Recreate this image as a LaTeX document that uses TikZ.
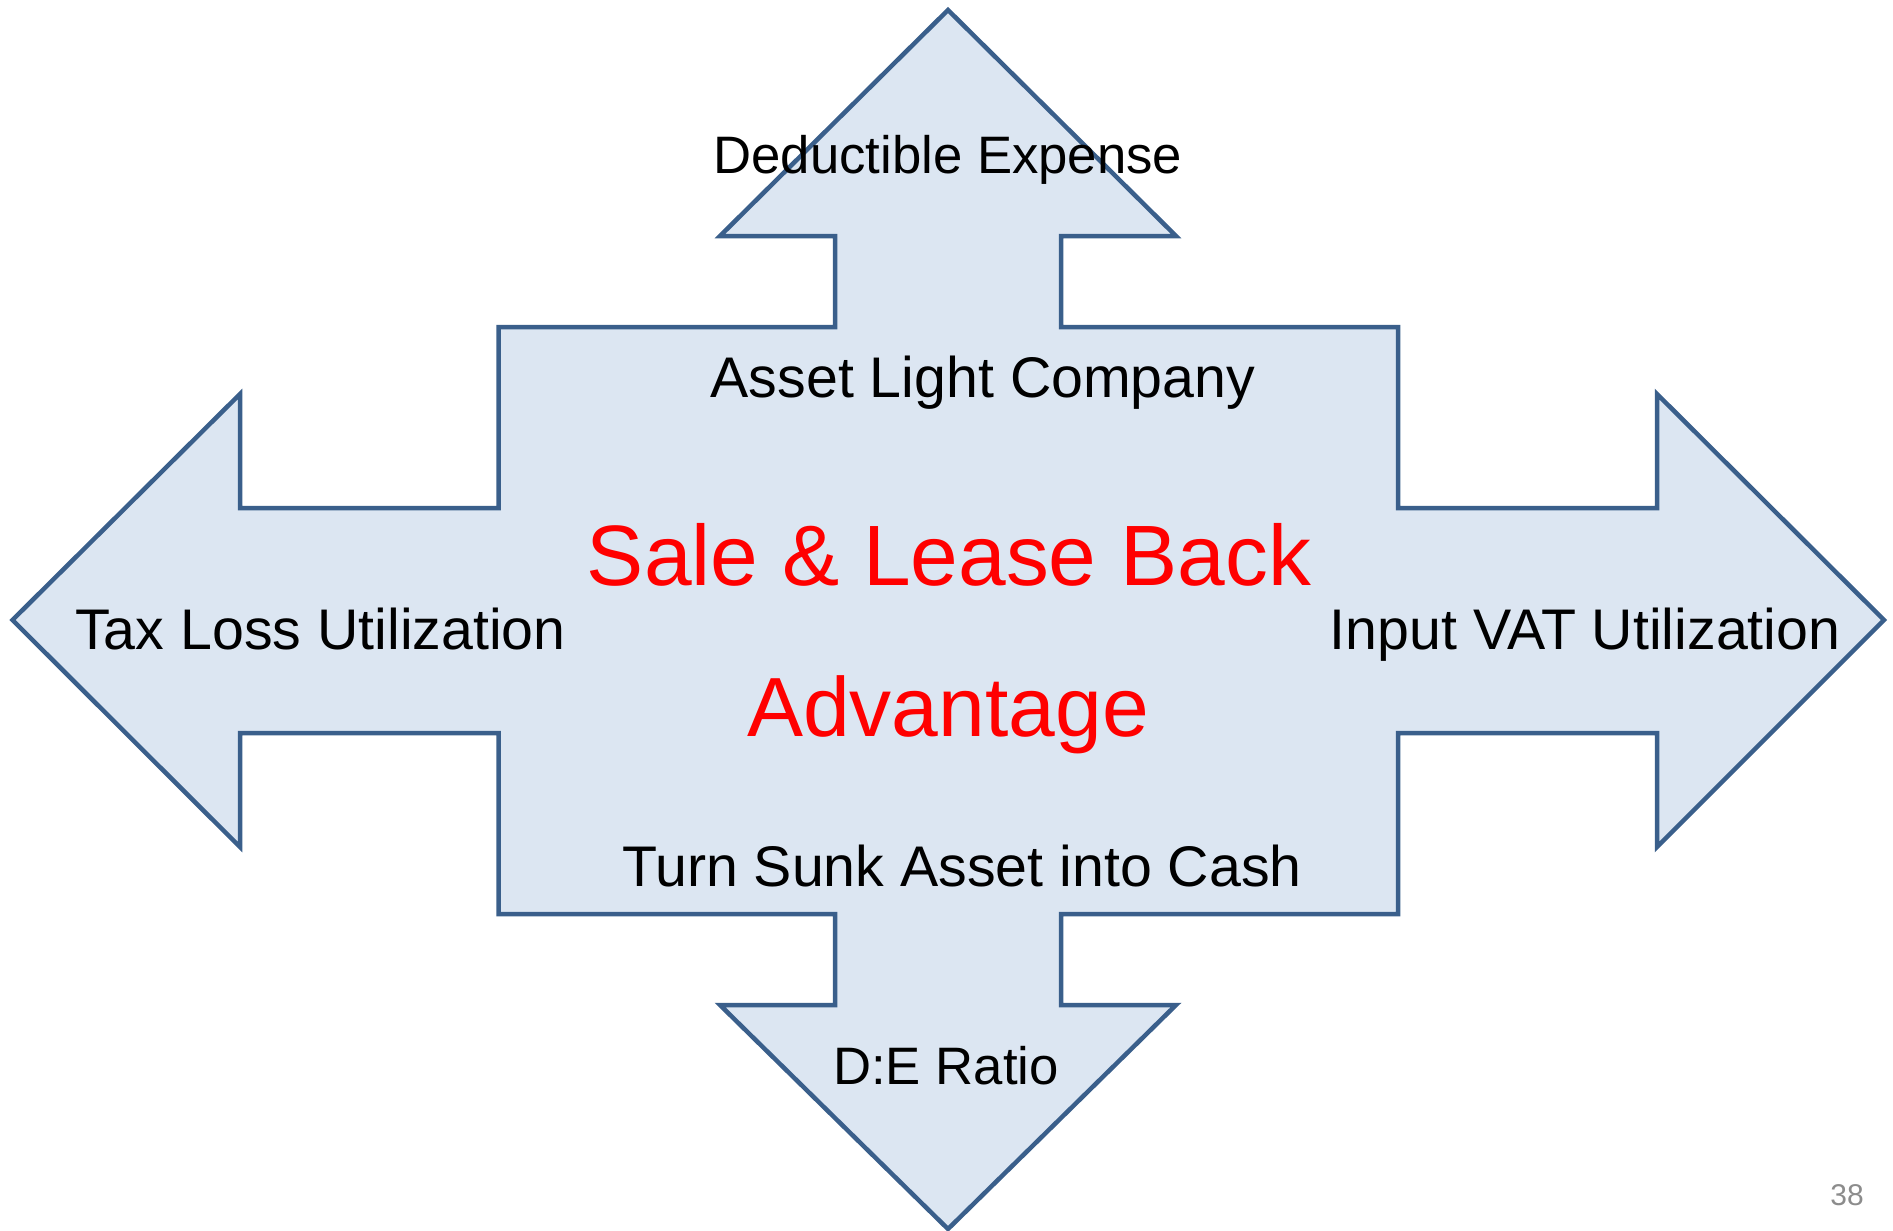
\documentclass[tikz,border=0pt]{standalone}
\usepackage{fontspec}
\setmainfont{Liberation Sans}
\definecolor{edgeblue}{HTML}{3A5F8B}
\definecolor{paleblue}{HTML}{DCE6F2}
\definecolor{pagenum}{HTML}{8C8C8C}
\tikzset{
  crossarrow/.style={draw=edgeblue, fill=paleblue, line width=4.5pt, line join=miter},
  lbl/.style={inner sep=0pt, anchor=base, text=black, font=\fontsize{57.3}{62}\selectfont},
  lblsmall/.style={lbl, font=\fontsize{52.7}{58}\selectfont},
  headline/.style={inner sep=0pt, anchor=base, text=red, font=\fontsize{85.7}{95}\selectfont},
  headline2/.style={headline, font=\fontsize{84}{95}\selectfont},
}
\begin{document}
\begin{tikzpicture}[x=1pt, y=-1pt]
\useasboundingbox (0,0) rectangle (1893,1231);
% four-way arrow around a central block
\draw[crossarrow]
  (948,10) -- (1176,236) -- (1061,236) -- (1061,327) -- (1398,327)
  -- (1398,508) -- (1657,508) -- (1657,394) -- (1884,620) -- (1657,847)
  -- (1657,733) -- (1398,733) -- (1398,914) -- (1061,914) -- (1061,1005)
  -- (1176,1005) -- (948,1229) -- (720,1005) -- (835,1005) -- (835,914)
  -- (498.5,914) -- (498.5,733) -- (240,733) -- (240,847) -- (12.5,620)
  -- (240,394) -- (240,508) -- (498.5,508) -- (498.5,327) -- (835,327)
  -- (835,236) -- (720,236) -- cycle;
% labels
\node[lblsmall] (ded) at (948,173) {Deductible Expense};
\node[lbl] (alc) at (983,397) {Asset Light Company};
\node[headline] (slb) at (949,585.5) {Sale \& Lease Back};
\node[headline2] (adv) at (948,736.5) {Advantage};
\node[lbl] (tax) at (320.5,649) {Tax Loss Utilization};
\node[lbl] (vat) at (1585,649) {Input VAT Utilization};
\node[lbl] (sunk) at (962,886) {Turn Sunk Asset into Cash};
\node[lblsmall] (de) at (946,1084) {D:E Ratio};
\node[inner sep=0pt, anchor=base, text=pagenum, font=\fontsize{30}{34}\selectfont] (pg) at (1847,1205) {38};
\end{tikzpicture}
\end{document}
